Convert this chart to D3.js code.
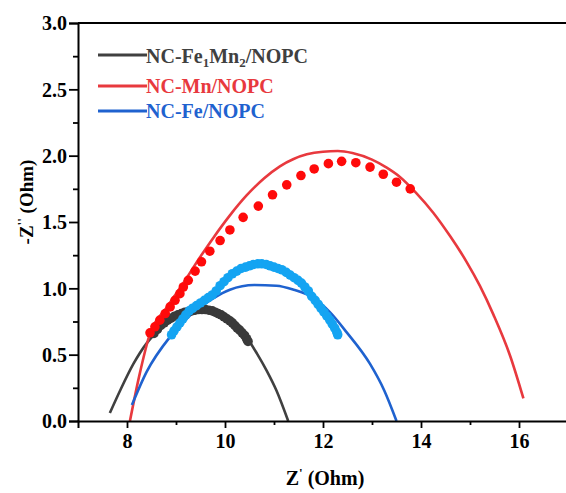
<!DOCTYPE html>
<html><head><meta charset="utf-8">
<script src="https://cdn.jsdelivr.net/npm/d3@7"></script>
<style>
html,body{margin:0;padding:0;background:#fff;}
svg text{font-family:"Liberation Serif","Times New Roman",serif;font-weight:bold;}
</style></head>
<body><svg id="chart" width="566" height="493"></svg>
<script>
// ---- data ----
const seriesNames = ["NC-Fe1Mn2/NOPC", "NC-Mn/NOPC", "NC-Fe/NOPC"];
const xTicks = [8, 10, 12, 14, 16];
const yTicks = [0.0, 0.5, 1.0, 1.5, 2.0, 2.5, 3.0];

// fitted curves [Z', -Z'']
const fitFeMn = [[7.65,0.06],[7.86,0.23],[8.13,0.43],[8.40,0.585],[8.74,0.71],[9.15,0.80],[9.56,0.84],[9.90,0.82],[10.31,0.70],[10.65,0.51],[10.85,0.38],[11.05,0.23],[11.29,0.0]];
const fitMn = [[8.06,0.0],[8.25,0.34],[8.47,0.66],[8.80,0.85],[9.15,1.04],[9.50,1.24],[9.76,1.38],[10.10,1.55],[10.44,1.70],[10.80,1.83],[11.12,1.92],[11.40,1.975],[11.67,2.01],[12.00,2.03],[12.30,2.035],[12.60,2.02],[13.00,1.97],[13.30,1.91],[13.57,1.84],[13.90,1.72],[14.25,1.57],[14.60,1.39],[14.93,1.20],[15.20,1.02],[15.48,0.80],[15.82,0.49],[16.09,0.17]];
const fitFe = [[8.10,0.12],[8.40,0.37],[8.88,0.635],[9.30,0.80],[9.76,0.925],[10.10,0.99],[10.60,1.025],[11.05,1.02],[11.40,0.99],[11.80,0.93],[12.14,0.82],[12.48,0.67],[12.96,0.43],[13.25,0.23],[13.50,0.0]];

// measured points [Z', -Z'']
const ptsFeMn = [[8.55,0.66],[8.62,0.69],[8.69,0.72],[8.76,0.74],[8.83,0.76],[8.90,0.775],[8.97,0.79],[9.04,0.80],[9.11,0.81],[9.18,0.82],[9.25,0.825],[9.32,0.83],[9.39,0.835],[9.46,0.84],[9.53,0.84],[9.60,0.84],[9.67,0.835],[9.74,0.83],[9.80,0.82],[9.86,0.81],[9.92,0.80],[9.98,0.785],[10.04,0.77],[10.10,0.755],[10.15,0.74],[10.20,0.72],[10.25,0.70],[10.30,0.685],[10.35,0.665],[10.40,0.645],[10.44,0.62],[10.47,0.60]];
const ptsMn = [[8.47,0.665],[8.57,0.71],[8.67,0.76],[8.78,0.81],[8.88,0.86],[8.98,0.91],[9.08,0.96],[9.15,1.01],[9.25,1.06],[9.39,1.13],[9.52,1.20],[9.69,1.28],[9.90,1.36],[10.10,1.44],[10.37,1.535],[10.68,1.62],[10.97,1.705],[11.26,1.78],[11.55,1.85],[11.82,1.90],[12.11,1.94],[12.38,1.957],[12.67,1.947],[12.96,1.914],[13.23,1.86],[13.50,1.80],[13.78,1.75]];
const ptsFe = [[8.91,0.65],[8.96,0.68],[9.02,0.71],[9.08,0.74],[9.14,0.77],[9.20,0.80],[9.27,0.83],[9.34,0.85],[9.42,0.87],[9.50,0.89],[9.58,0.91],[9.66,0.93],[9.74,0.95],[9.82,0.98],[9.90,1.02],[9.98,1.05],[10.06,1.08],[10.15,1.11],[10.24,1.13],[10.33,1.15],[10.42,1.16],[10.50,1.17],[10.58,1.18],[10.67,1.185],[10.75,1.185],[10.84,1.18],[10.92,1.17],[11.00,1.16],[11.08,1.15],[11.16,1.14],[11.25,1.12],[11.33,1.10],[11.41,1.08],[11.49,1.06],[11.56,1.04],[11.63,1.01],[11.70,0.98],[11.77,0.94],[11.84,0.91],[11.90,0.88],[11.96,0.85],[12.02,0.82],[12.08,0.79],[12.14,0.76],[12.19,0.73],[12.24,0.70],[12.28,0.67],[12.30,0.65]];

// ---- drawing ----
const M = {left: 78, top: 23, right: 568, bottom: 421};
const svg = d3.select("#chart");
const x = d3.scaleLinear().domain([7, 17]).range([M.left, M.right]);
const y = d3.scaleLinear().domain([0, 3]).range([M.bottom, M.top]);

const lineColors = ["#404040", "#e8393e", "#1f62cf"];
const dotColors = ["#3a3a3a", "#ff0a0a", "#14a4f2"];

const line = d3.line().x(d => x(d[0])).y(d => y(d[1])).curve(d3.curveMonotoneX);
[fitFeMn, fitMn, fitFe].forEach((s, i) => {
  svg.append("path").datum(s).attr("d", line)
    .attr("fill", "none").attr("stroke", lineColors[i]).attr("stroke-width", 2.6);
});
[ptsFeMn, ptsMn, ptsFe].forEach((s, i) => {
  svg.append("g").selectAll("circle").data(s).join("circle")
    .attr("cx", d => x(d[0])).attr("cy", d => y(d[1])).attr("r", 4.8)
    .attr("fill", dotColors[i]);
});

// axes
const fs = 20;
const xAxis = svg.append("g").attr("transform", `translate(0,${M.bottom})`)
  .call(d3.axisBottom(x).tickValues(xTicks).tickSize(7).tickPadding(6).tickFormat(d3.format("d")));
const xMinor = svg.append("g").attr("transform", `translate(0,${M.bottom})`)
  .call(d3.axisBottom(x).tickValues([9, 11, 13, 15]).tickSize(4).tickFormat(""));
const yAxis = svg.append("g").attr("transform", `translate(${M.left},0)`)
  .call(d3.axisLeft(y).tickValues(yTicks).tickSize(9).tickPadding(2).tickFormat(d3.format(".1f")));
const yMinor = svg.append("g").attr("transform", `translate(${M.left},0)`)
  .call(d3.axisLeft(y).tickValues([0.25, 0.75, 1.25, 1.75, 2.25, 2.75]).tickSize(5).tickFormat(""));
[xAxis, xMinor, yAxis, yMinor].forEach(g => {
  g.select(".domain").attr("stroke", "#000").attr("stroke-width", 2);
  g.selectAll(".tick line").attr("stroke", "#000").attr("stroke-width", 1.8);
  g.selectAll("text").attr("font-size", fs).attr("fill", "#000")
    .attr("font-family", "Liberation Serif").attr("font-weight", "bold");
});
xMinor.select(".domain").remove();
yMinor.select(".domain").remove();
yAxis.selectAll("text").attr("dy", "0.34em");
// top frame line
svg.append("line").attr("x1", M.left).attr("x2", M.right).attr("y1", M.top).attr("y2", M.top)
  .attr("stroke", "#000").attr("stroke-width", 2);

// axis titles
const xt = svg.append("text").attr("x", 325).attr("y", 485).attr("text-anchor", "middle")
  .attr("font-size", fs).attr("fill", "#000");
xt.append("tspan").text("Z");
xt.append("tspan").attr("font-size", 13).attr("dy", -8).text("'");
xt.append("tspan").attr("dy", 8).text(" (Ohm)");

const yt = svg.append("text").attr("transform", "translate(33,202) rotate(-90)").attr("text-anchor", "middle")
  .attr("font-size", 19).attr("fill", "#000");
yt.append("tspan").text("-Z");
yt.append("tspan").attr("font-size", 13).attr("dy", -7).text("''");
yt.append("tspan").attr("dy", 7).text(" (Ohm)");

// legend
const legY = [55, 86, 111];
const legBase = [63, 93, 118];
seriesNames.forEach((name, i) => {
  svg.append("line").attr("x1", 98).attr("x2", 147).attr("y1", legY[i]).attr("y2", legY[i])
    .attr("stroke", lineColors[i]).attr("stroke-width", 3);
  const t = svg.append("text").attr("x", 146).attr("y", legBase[i]).attr("font-size", fs).attr("fill", lineColors[i]);
  if (i === 0) {
    t.append("tspan").text("NC-Fe");
    t.append("tspan").attr("font-size", 13).attr("dy", 4).text("1");
    t.append("tspan").attr("dy", -4).text("Mn");
    t.append("tspan").attr("font-size", 13).attr("dy", 4).text("2");
    t.append("tspan").attr("dy", -4).text("/NOPC");
  } else {
    t.text(name);
  }
});
</script></body></html>
